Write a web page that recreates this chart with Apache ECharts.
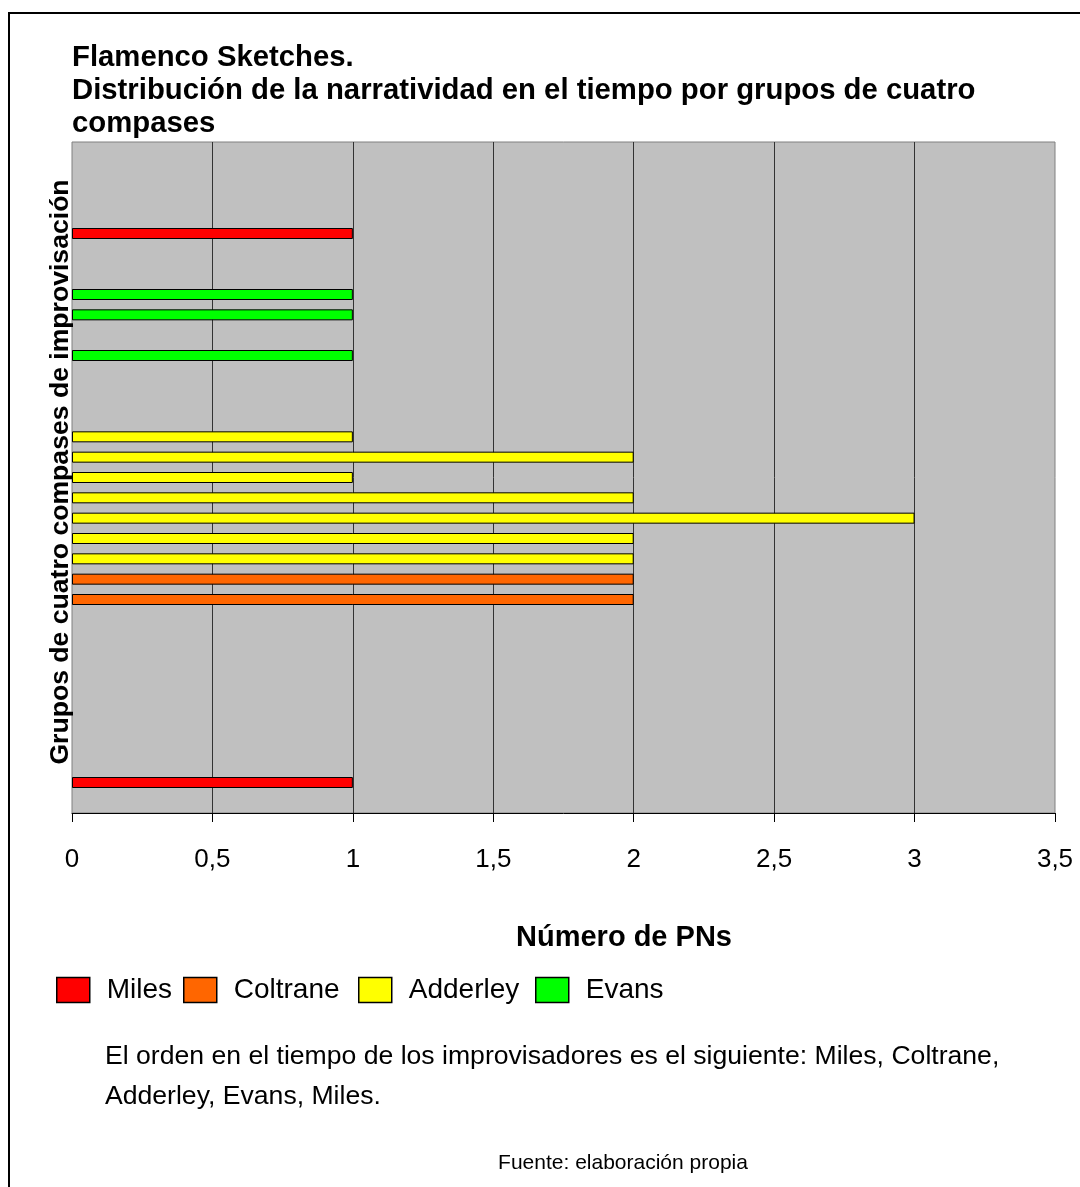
<!DOCTYPE html>
<html>
<head>
<meta charset="utf-8">
<script src="https://cdn.jsdelivr.net/npm/echarts@6/dist/echarts.min.js"></script>
<style>
  html, body { margin: 0; padding: 0; background: #fff; }
  #chart { width: 1080px; height: 1187px; }
</style>
</head>
<body>
<div id="chart"></div>
<script>
// grupos de cuatro compases (1 = abajo)
const groups = ["1","2","3","4","5","6","7","8","9","10","11","12","13","14","15","16","17",
  "18","19","20","21","22","23","24","25","26","27","28","29","30","31","32","33"];

// número de PNs por grupo
const miles = [null, 1, null, null, null, null, null, null, null, null, null,
  null, null, null, null, null, null, null, null, null, null, null,
  null, null, null, null, null, null, 1, null, null, null, null];
const coltrane = [null, null, null, null, null, null, null, null, null, null, 2,
  2, null, null, null, null, null, null, null, null, null, null,
  null, null, null, null, null, null, null, null, null, null, null];
const adderley = [null, null, null, null, null, null, null, null, null, null, null,
  null, 2, 2, 3, 2, 1, 2, 1, null, null, null,
  null, null, null, null, null, null, null, null, null, null, null];
const evans = [null, null, null, null, null, null, null, null, null, null, null,
  null, null, null, null, null, null, null, null, null, null, null,
  1, null, 1, 1, null, null, null, null, null, null, null];

const players = ["Miles", "Coltrane", "Adderley", "Evans"];
const xTicks = { min: 0, max: 3.5, interval: 0.5 };

const FONT = '"Liberation Sans", Arial, sans-serif';

const chart = echarts.init(document.getElementById("chart"));

function bar(name, data, color) {
  return {
    name: name,
    type: "bar",
    stack: "pn",
    data: data,
    barWidth: 11,
    itemStyle: { color: color, borderColor: "#000", borderWidth: 1 },
  };
}

// one legend per item so each square sits where Excel put it
const legendLeft = [51, 178, 353, 530];
function legendItem(name, i) {
  return {
    left: legendLeft[i],
    top: 971,
    icon: "rect",
    itemWidth: 33,
    itemHeight: 25,
    itemStyle: { borderColor: "#000", borderWidth: 1.5 },
    textStyle: {
      fontFamily: FONT,
      fontSize: 28,
      color: "#000",
      padding: [0, 0, 0, 12],
    },
    data: [name],
  };
}

const option = {
  animation: false,
  backgroundColor: "#fff",
  textStyle: { fontFamily: FONT },
  title: {
    text: "Flamenco Sketches.\nDistribución de la narratividad en el tiempo por grupos de cuatro\ncompases",
    left: 67,
    top: 36,
    textStyle: {
      fontFamily: FONT,
      fontSize: 29.3,
      fontWeight: "bold",
      color: "#000",
      lineHeight: 33,
    },
  },
  grid: {
    left: 72,
    top: 142,
    width: 983,
    height: 671,
    show: true,
    backgroundColor: "#c0c0c0",
    borderColor: "#808080",
    borderWidth: 1,
  },
  legend: players.map(legendItem),
  xAxis: {
    type: "value",
    min: xTicks.min,
    max: xTicks.max,
    interval: xTicks.interval,
    axisLine: { show: true, lineStyle: { color: "#000", width: 1 } },
    axisTick: { show: true, length: 9, lineStyle: { color: "#000" } },
    axisLabel: {
      margin: 34,
      fontFamily: FONT,
      fontSize: 26,
      color: "#000",
      formatter: (v) => String(v).replace(".", ","),
    },
    splitLine: {
      show: true,
      showMinLine: false,
      showMaxLine: false,
      lineStyle: { color: "#333", width: 1 },
    },
  },
  yAxis: {
    type: "category",
    data: groups,
    axisLine: { show: false },
    axisTick: { show: false },
    axisLabel: { show: false },
    splitLine: { show: false },
  },
  series: [
    bar("Miles", miles, "#ff0000"),
    bar("Coltrane", coltrane, "#ff6600"),
    bar("Adderley", adderley, "#ffff00"),
    bar("Evans", evans, "#00ff00"),
  ],
  graphic: [
    {
      type: "rect",
      shape: { x: 9, y: 13, width: 1100, height: 1200 },
      style: { fill: "none", stroke: "#000", lineWidth: 2 },
      silent: true,
      z: -1,
    },
    {
      type: "text",
      x: 61,
      y: 472,
      rotation: Math.PI / 2,
      style: {
        text: "Grupos de cuatro compases de improvisación",
        font: "bold 26.6px " + FONT,
        fill: "#000",
        align: "center",
        verticalAlign: "middle",
      },
    },
    {
      type: "text",
      x: 624,
      y: 938,
      style: {
        text: "Número de PNs",
        font: "bold 29px " + FONT,
        fill: "#000",
        align: "center",
        verticalAlign: "middle",
      },
    },
    {
      type: "text",
      x: 105,
      y: 1057,
      style: {
        text: "El orden en el tiempo de los improvisadores es el siguiente: Miles, Coltrane,",
        font: "26.6px " + FONT,
        fill: "#000",
        verticalAlign: "middle",
      },
    },
    {
      type: "text",
      x: 105,
      y: 1097,
      style: {
        text: "Adderley, Evans, Miles.",
        font: "26.6px " + FONT,
        fill: "#000",
        verticalAlign: "middle",
      },
    },
    {
      type: "text",
      x: 623,
      y: 1163,
      style: {
        text: "Fuente: elaboración propia",
        font: "21px " + FONT,
        fill: "#000",
        align: "center",
        verticalAlign: "middle",
      },
    },
  ],
};

chart.setOption(option);
</script>
</body>
</html>
